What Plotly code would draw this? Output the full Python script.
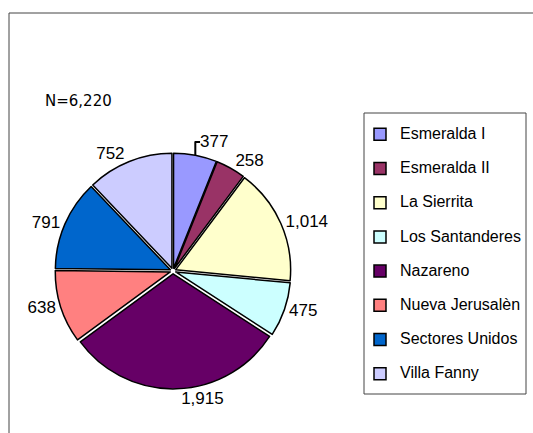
import plotly.graph_objects as go

categories = ["Esmeralda I", "Esmeralda II", "La Sierrita", "Los Santanderes",
              "Nazareno", "Nueva Jerusalèn", "Sectores Unidos", "Villa Fanny"]
values = [377, 258, 1014, 475, 1915, 638, 791, 752]
colors = ["#9999FF", "#993366", "#FFFFCC", "#CCFFFF",
          "#660066", "#FF8080", "#0066CC", "#CCCCFF"]
note_text = "N=6,220"

W, H = 533, 433
cx, cy, r, pull = 173, 271, 115, 0.025
half = r * (1 + pull)

legend_labels = [f"<span style='font-size:16px'>{c}</span><br> " for c in categories]

fig = go.Figure(go.Pie(
    labels=legend_labels,
    values=values,
    sort=False,
    direction="clockwise",
    rotation=0,
    pull=[pull] * len(values),
    marker=dict(colors=colors, line=dict(color="black", width=1.5)),
    texttemplate="%{value:,}",
    textposition="outside",
    textfont=dict(family="Liberation Sans, Arial", size=17, color="black"),
    domain=dict(x=[(cx - half) / W, (cx + half) / W],
                y=[(H - cy - half) / H, (H - cy + half) / H]),
    hoverinfo="skip",
))

fig.update_layout(
    width=W, height=H,
    margin=dict(l=0, r=0, t=0, b=0, autoexpand=False),
    paper_bgcolor="white",
    plot_bgcolor="white",
    font=dict(family="Liberation Sans, Arial", color="black"),
    showlegend=True,
    legend=dict(
        xref="paper", yref="paper",
        x=360 / W, y=1 - 120 / H, xanchor="left", yanchor="top",
        font=dict(family="Liberation Sans, Arial", size=12, color="black"),
        valign="top", bgcolor="rgba(0,0,0,0)", borderwidth=0,
        maxheight=400,
    ),
    shapes=[
        dict(type="rect", xref="paper", yref="paper",
             x0=9 / W, x1=1.05, y0=-0.05, y1=1 - 13 / H,
             line=dict(color="#444444", width=1), fillcolor="rgba(0,0,0,0)", layer="below"),
        dict(type="rect", xref="paper", yref="paper",
             x0=364 / W, x1=526 / W, y0=1 - 394 / H, y1=1 - 113 / H,
             line=dict(color="#444444", width=1), fillcolor="rgba(0,0,0,0)", layer="below"),
    ],
    annotations=[
        dict(text=note_text, xref="paper", yref="paper",
             x=43 / W, y=1 - 101 / H, xanchor="left", yanchor="middle",
             showarrow=False, font=dict(family="DejaVu Sans", size=15, color="black")),
    ],
)

fig.write_html("out.html", config={"displayModeBar": False},
               post_script="document.body.style.margin='0';")
